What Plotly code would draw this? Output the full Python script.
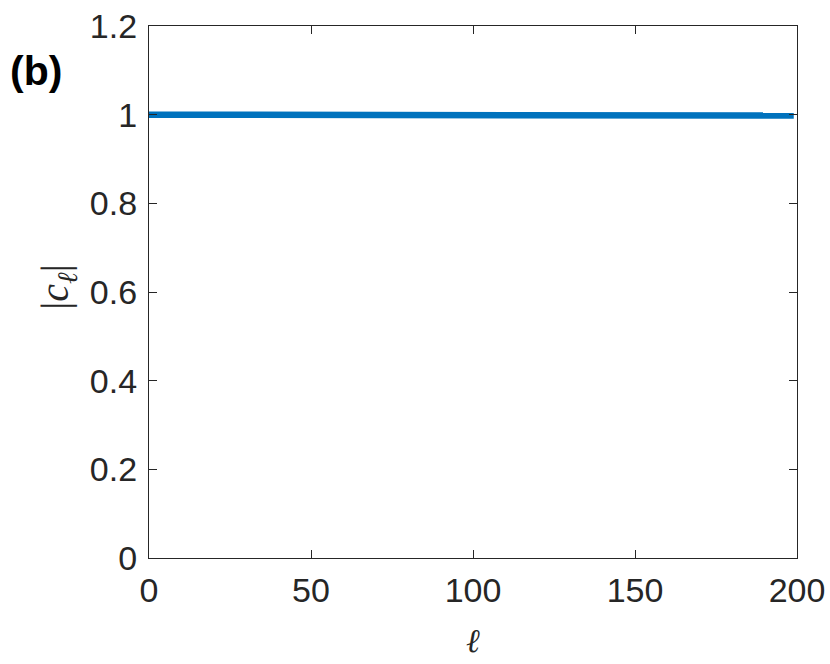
import plotly.graph_objects as go

# values
ell = [0, 25, 50, 75, 100, 125, 150, 175, 199]
c_abs = [1.0, 1.0, 0.9995, 0.999, 0.999, 0.999, 0.998, 0.999, 0.998]

x_ticks = [0, 50, 100, 150, 200]
y_ticks = [0, 0.2, 0.4, 0.6, 0.8, 1, 1.2]
y_tick_text = ["0", "0.2", "0.4", "0.6", "0.8", "1", "1.2"]

axis_color = "#262626"
tick_font = dict(family="Liberation Sans, Arial, sans-serif", size=34, color=axis_color)
label_font = dict(family="Liberation Serif, DejaVu Serif, serif", size=40, color=axis_color)

fig = go.Figure()
fig.add_trace(go.Scatter(
    x=ell, y=c_abs, mode="lines",
    line=dict(color="#0072BD", width=6.5),
    showlegend=False,
))

common = dict(
    showgrid=False, zeroline=False, automargin=False,
    showline=True, linecolor=axis_color, linewidth=1.2,
    mirror="allticks", ticks="inside", ticklen=8, tickcolor=axis_color,
    tickfont=tick_font, ticklabeloverflow="allow",
)

fig.update_xaxes(range=[0, 200], tickvals=x_ticks, ticklabelstandoff=2, **common)
fig.update_yaxes(range=[0, 1.2], tickvals=y_ticks, ticktext=y_tick_text,
                 ticklabelstandoff=4, **common)

fig.add_annotation(
    text="<i>ℓ</i>", xref="paper", yref="paper", x=0.5, y=-0.118,
    xanchor="center", yanchor="top", showarrow=False,
    font=dict(family="Liberation Serif, DejaVu Serif, serif", size=33, color=axis_color),
)
fig.add_annotation(
    text="|<i>c</i><sub><span style='font-size:28px'><i>ℓ</i></span></sub>|",
    xref="paper", yref="paper", x=-0.142, y=0.51,
    xanchor="center", yanchor="middle", showarrow=False, textangle=-90,
    font=label_font,
)
fig.add_annotation(
    text="<b>(b)</b>", xref="paper", yref="paper", x=-0.217, y=0.915,
    xanchor="left", yanchor="middle", showarrow=False,
    font=dict(family="Liberation Sans, Arial, sans-serif", size=41, color="black"),
)

fig.update_layout(
    width=830, height=664,
    margin=dict(l=149, r=33, t=26, b=106),
    paper_bgcolor="white", plot_bgcolor="white",
)

# drop the page's default body margin so the figure fills the window
fig.write_html("out.html", config={"displayModeBar": False},
               post_script="document.body.style.margin='0';")
